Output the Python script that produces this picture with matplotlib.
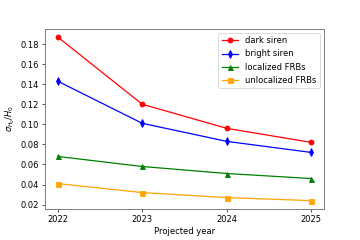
import numpy as np
import matplotlib.pyplot as plt

years = [2022, 2023, 2024, 2025]
dark_siren = [0.187, 0.120, 0.096, 0.082]
bright_siren = [0.143, 0.101, 0.083, 0.072]
localized_frb = [0.068, 0.058, 0.051, 0.046]
unlocalized_frb = [0.041, 0.032, 0.027, 0.024]

fig, ax = plt.subplots(figsize=(6, 4), dpi=60)
fig.subplots_adjust(bottom=0.13)
ax.plot(years, dark_siren, color='red', marker='o', label='dark siren')
ax.plot(years, bright_siren, color='blue', marker='d', label='bright siren')
ax.plot(years, localized_frb, color='green', marker='^', label='localized FRBs')
ax.plot(years, unlocalized_frb, color='orange', marker='s', label='unlocalized FRBs')

ax.set_xticks(years)
ax.set_xlabel('Projected year')
ax.set_ylabel(r'$\sigma_{H_0}/H_0$')
for s in ax.spines.values():
    s.set_color('#808080')
    s.set_linewidth(1.2)
ax.legend(loc='upper right')

fig.savefig('out.png')
